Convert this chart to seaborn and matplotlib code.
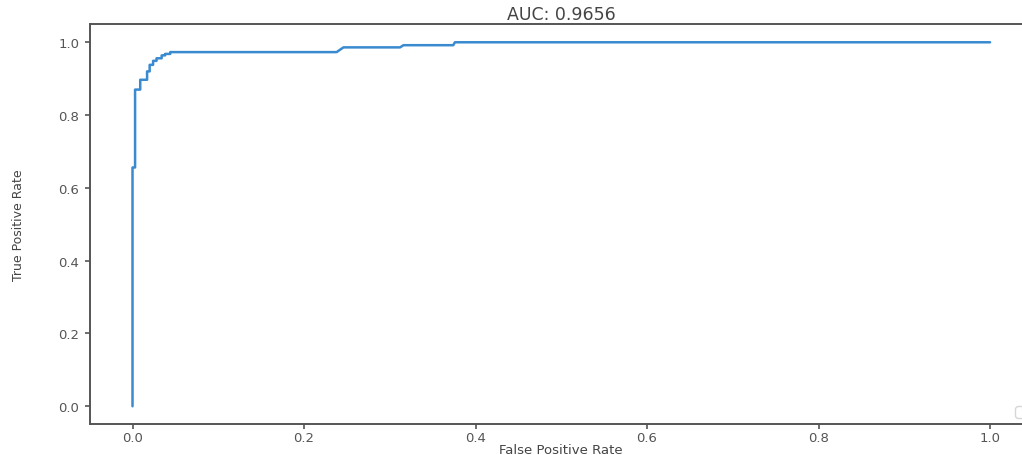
import matplotlib
matplotlib.use("Agg")
import matplotlib.pyplot as plt
import seaborn as sns
import pandas as pd

# ROC curve points
fpr = [0.000, 0.000, 0.003, 0.003, 0.009, 0.009, 0.017, 0.017, 0.020, 0.020,
       0.024, 0.024, 0.028, 0.028, 0.034, 0.034, 0.038, 0.038, 0.044, 0.044,
       0.238, 0.246, 0.312, 0.316, 0.374, 0.376, 1.000]
tpr = [0.000, 0.656, 0.656, 0.870, 0.870, 0.897, 0.897, 0.920, 0.920, 0.938,
       0.938, 0.949, 0.949, 0.956, 0.956, 0.964, 0.964, 0.968, 0.968, 0.973,
       0.973, 0.986, 0.986, 0.992, 0.992, 1.000, 1.000]
auc_label = "AUC: 0.9656"

df = pd.DataFrame({"fpr": fpr, "tpr": tpr})

sns.set_style("ticks")
plt.rcParams["font.family"] = ["DejaVu Sans"]
plt.rcParams["axes.edgecolor"] = "#555555"
plt.rcParams["xtick.color"] = "#555555"
plt.rcParams["ytick.color"] = "#555555"
plt.rcParams["text.color"] = "#444444"
plt.rcParams["axes.labelcolor"] = "#444444"

fig = plt.figure(figsize=(10.22, 4.56), dpi=100)
ax = fig.add_axes([0.0877, 0.067, 0.923, 0.878])

sns.lineplot(data=df, x="fpr", y="tpr", sort=False, estimator=None,
             color="#3a8ad0", linewidth=1.8, ax=ax)

ax.set_xlim(-0.05, 1.05)
ax.set_ylim(-0.05, 1.05)
ax.set_xticks([0.0, 0.2, 0.4, 0.6, 0.8, 1.0])
ax.set_yticks([0.0, 0.2, 0.4, 0.6, 0.8, 1.0])
ax.tick_params(labelsize=9.5, length=3.5, width=1.2)
ax.tick_params(axis="x", pad=1.5)
ax.tick_params(axis="y", pad=4)
for s in ax.spines.values():
    s.set_linewidth(1.4)

ax.set_title(auc_label, fontsize=12.5, pad=4)
ax.set_xlabel("False Positive Rate", fontsize=9.5, labelpad=-1)
ax.set_ylabel("True Positive Rate", fontsize=9,
              family=["Liberation Sans Narrow", "DejaVu Sans"], labelpad=24)

ax.legend(loc="lower right")

fig.savefig("out.png", dpi=100)
